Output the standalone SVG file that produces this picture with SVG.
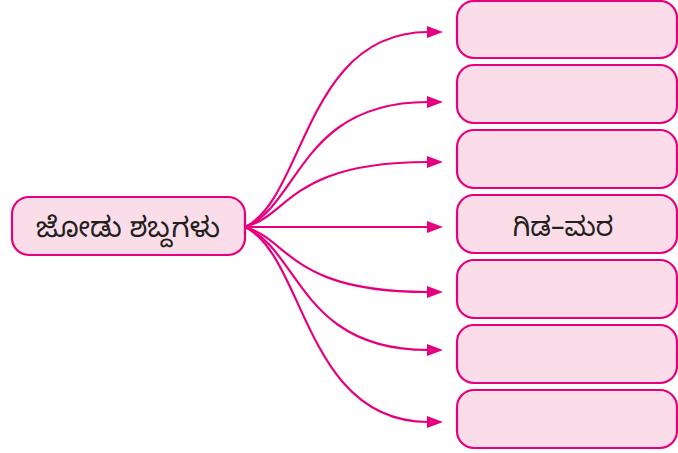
<svg xmlns="http://www.w3.org/2000/svg" width="678" height="453" viewBox="0 0 678 453">
<style>
.box{fill:#FBDDEA;stroke:#E6007E;stroke-width:2.2}
.c{fill:none;stroke:#E6007E;stroke-width:2.2}
.t{font-family:"Noto Sans Kannada","Noto Sans","DejaVu Sans",sans-serif;fill:#231F20;text-anchor:middle}
</style>
<defs>
<marker id="ah" markerWidth="16" markerHeight="12" refX="1" refY="6" orient="auto" markerUnits="userSpaceOnUse">
<path d="M0,0 L16,6 L0,12 Z" fill="#E6007E"/>
</marker>
</defs>
<rect width="678" height="453" fill="#FFFFFF"/>
<g id="connectors">
<path class="c" marker-end="url(#ah)" d="M245,227 C305,198 305,32 428,32"/>
<path class="c" marker-end="url(#ah)" d="M245,227 C300,205 300,102 428,102"/>
<path class="c" marker-end="url(#ah)" d="M245,227 C290,215 290,162 428,162"/>
<path class="c" marker-end="url(#ah)" d="M245,227 L428,227"/>
<path class="c" marker-end="url(#ah)" d="M245,227 C290,240 290,292 428,292"/>
<path class="c" marker-end="url(#ah)" d="M245,227 C300,250 300,350 428,350"/>
<path class="c" marker-end="url(#ah)" d="M245,227 C305,256 305,422 428,422"/>
</g>
<g id="source">
<rect class="box" x="12" y="197" width="233" height="58" rx="17"/>
<text class="t" x="128" y="237" font-size="28">ಜೋಡು ಶಬ್ದಗಳು</text>
</g>
<g id="box1"><rect class="box" x="457" y="1" width="220" height="57" rx="17"/></g>
<g id="box2"><rect class="box" x="457" y="65" width="220" height="58" rx="17"/></g>
<g id="box3"><rect class="box" x="457" y="130" width="220" height="58" rx="17"/></g>
<g id="box4"><rect class="box" x="457" y="195" width="220" height="58" rx="17"/>
<text class="t" x="563" y="236" font-size="27">ಗಿಡ–ಮರ</text></g>
<g id="box5"><rect class="box" x="457" y="260" width="220" height="58" rx="17"/></g>
<g id="box6"><rect class="box" x="457" y="325" width="220" height="58" rx="17"/></g>
<g id="box7"><rect class="box" x="457" y="390" width="220" height="58" rx="17"/></g>
</svg>
